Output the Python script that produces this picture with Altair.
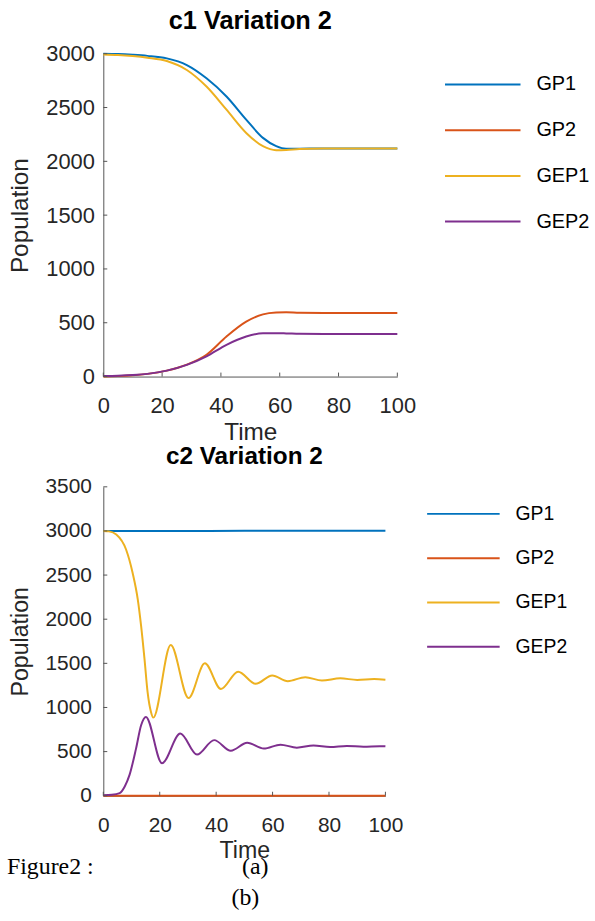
import altair as alt
import pandas as pd

SERIES = ["GP1", "GP2", "GEP1", "GEP2"]
COLORS = ["#0072BD", "#D95319", "#EDB120", "#7E2F8E"]

X_TICKS = [0, 20, 40, 60, 80, 100]
C1_Y_TICKS = [0, 500, 1000, 1500, 2000, 2500, 3000]
C2_Y_TICKS = [0, 500, 1000, 1500, 2000, 2500, 3000, 3500]

# ---- c1 Variation 2 ----
C1_T = [0, 5, 10, 15, 21.6, 28.4, 35.1, 41.9, 48.6, 54.3, 58.8, 62.2, 66.7, 75, 85, 100]
C1_GP1 = [3000, 2997, 2990, 2980, 2957, 2895, 2772, 2603, 2388, 2218, 2141, 2117, 2118, 2120, 2120, 2120]
C1_GP2 = [0, 4, 12, 25, 55, 111, 203, 372, 510, 578, 595, 597, 592, 590, 590, 590]
C1_GEP1 = [2993, 2988, 2978, 2963, 2932, 2849, 2695, 2480, 2264, 2141, 2104, 2106, 2114, 2119, 2120, 2120]
C1_GEP2 = [5, 8, 14, 25, 55, 108, 188, 295, 372, 403, 403, 401, 397, 395, 395, 395]

# ---- c2 Variation 2 ----
C2_GP1_T = [0, 25, 50, 75, 100]
C2_GP1 = [3000, 3000, 3001, 3001, 3001]
C2_GP2_T = [0, 25, 50, 75, 100]
C2_GP2 = [0, 0, 0, 0, 0]
C2_GEP1_T = [0, 2, 4.6, 8.1, 10.4, 12.2, 13.4, 14.6, 15.7, 16.9, 17.7, 23.9, 30.2, 36, 41.7, 47.8,
             54, 59.9, 65.4, 71.6, 77.5, 84, 90, 96, 100]
C2_GEP1 = [3000, 2995, 2960, 2787, 2524, 2228, 1924, 1550, 1174, 949, 885, 1707, 1107, 1500, 1210, 1406,
           1268, 1362, 1298, 1343, 1305, 1330, 1312, 1322, 1315]
C2_GEP2_T = [0, 3, 5.8, 7.6, 9.3, 11.6, 13.4, 15.1, 20.8, 27.3, 33.2, 39.3, 45.2, 51, 56.9, 62.8,
             68.6, 74.5, 80.4, 86.3, 92.2, 98, 100]
C2_GEP2 = [5, 10, 30, 105, 236, 534, 799, 893, 368, 705, 466, 630, 510, 600, 534, 579,
           545, 570, 552, 564, 556, 562, 560]

CAPTION_LEFT = "Figure2 :"
CAPTION_A = "(a)"
CAPTION_B = "(b)"

FONT = "Liberation Sans"
AX = "#555555"
TXT = "#262626"


def long_df(pairs):
    rows = []
    for name, ts, vs in pairs:
        for t, v in zip(ts, vs):
            rows.append({"series": name, "Time": t, "Population": v})
    return pd.DataFrame(rows)


c1_df = long_df([("GP1", C1_T, C1_GP1), ("GP2", C1_T, C1_GP2),
                 ("GEP1", C1_T, C1_GEP1), ("GEP2", C1_T, C1_GEP2)])
c2_df = long_df([("GP1", C2_GP1_T, C2_GP1), ("GP2", C2_GP2_T, C2_GP2),
                 ("GEP1", C2_GEP1_T, C2_GEP1), ("GEP2", C2_GEP2_T, C2_GEP2)])


def panel(df, title, yticks, ymax, w, h, tick_fs, title_fs, head_fs, leg_fs,
          ylab_pad, leg_x, leg_y, sym_len, row_pad, title_offset):
    lines = alt.Chart(df).mark_line(strokeWidth=2, interpolate="monotone").encode(
        x=alt.X("Time:Q", scale=alt.Scale(domain=[0, 100], nice=False),
                axis=alt.Axis(values=X_TICKS, title="Time", ticks=False, tickSize=0,
                              grid=False, domainColor=AX, labelFontSize=tick_fs,
                              labelColor=TXT, labelPadding=19, titleFontSize=title_fs,
                              titleFontWeight="normal", titleColor=TXT, titlePadding=4,
                              labelFlush=False, format="d")),
        y=alt.Y("Population:Q", scale=alt.Scale(domain=[0, ymax], nice=False),
                axis=alt.Axis(values=yticks, title="Population", ticks=False, tickSize=0,
                              grid=False, domainColor=AX, labelFontSize=tick_fs,
                              labelColor=TXT, labelPadding=ylab_pad, titleFontSize=title_fs,
                              titleFontWeight="normal", titleColor=TXT, titlePadding=13,
                              labelFlush=False, format="d")),
        color=alt.Color("series:N", scale=alt.Scale(domain=SERIES, range=COLORS),
                        legend=alt.Legend(orient="none", legendX=leg_x, legendY=leg_y,
                                          title=None, symbolType="stroke",
                                          symbolSize=sym_len * sym_len, symbolStrokeWidth=2,
                                          clipHeight=leg_fs, rowPadding=row_pad,
                                          labelFontSize=leg_fs, labelColor="#000000",
                                          labelOffset=15, padding=0, labelFont=FONT)),
    )
    xt = alt.Chart(pd.DataFrame({"Time": X_TICKS})).mark_rule(color=AX, strokeWidth=1).encode(
        x="Time:Q", y=alt.value(h), y2=alt.value(h - 4))
    yt = alt.Chart(pd.DataFrame({"Population": yticks})).mark_rule(color=AX, strokeWidth=1).encode(
        y="Population:Q", x=alt.value(0), x2=alt.value(4))
    return alt.layer(lines, xt, yt).properties(
        width=w, height=h,
        title=alt.TitleParams(text=title, fontSize=head_fs, fontWeight="bold", font=FONT,
                              color="#000000", anchor="middle", frame="group",
                              offset=title_offset))


top = panel(c1_df, "c1 Variation 2", C1_Y_TICKS, 3000, 296, 325, 22, 24.5, 25.5, 20,
            9, 343, 21, 76, 26, 8)
bottom_core = panel(c2_df, "c2 Variation 2", C2_Y_TICKS, 3500, 284, 311, 21, 23.3, 24.5, 19.5,
                    12, 325, 17.5, 73, 23.6, 6)

cap_left = alt.Chart(pd.DataFrame({"label": [CAPTION_LEFT]})).mark_text(
    font="Liberation Serif", fontSize=24, align="left", baseline="alphabetic", color="#000000"
).encode(text="label:N", x=alt.value(-97), y=alt.value(390))
cap_a = alt.Chart(pd.DataFrame({"label": [CAPTION_A]})).mark_text(
    font="Liberation Serif", fontSize=24, align="center", baseline="alphabetic", color="#000000"
).encode(text="label:N", x=alt.value(153), y=alt.value(390))
cap_b = alt.Chart(pd.DataFrame({"label": [CAPTION_B]})).mark_text(
    font="Liberation Serif", fontSize=24, align="center", baseline="alphabetic", color="#000000"
).encode(text="label:N", x=alt.value(143), y=alt.value(421))

bottom = alt.layer(bottom_core, cap_left, cap_a, cap_b)

chart = alt.vconcat(top, bottom, spacing=0).resolve_scale(color="independent").resolve_legend(
    color="independent"
).properties(padding={"left": 7, "top": 6, "right": 5, "bottom": 5}).configure(
    font=FONT
).configure_view(stroke=None)

chart.save("out.html", embed_options={"renderer": "svg", "actions": False})
